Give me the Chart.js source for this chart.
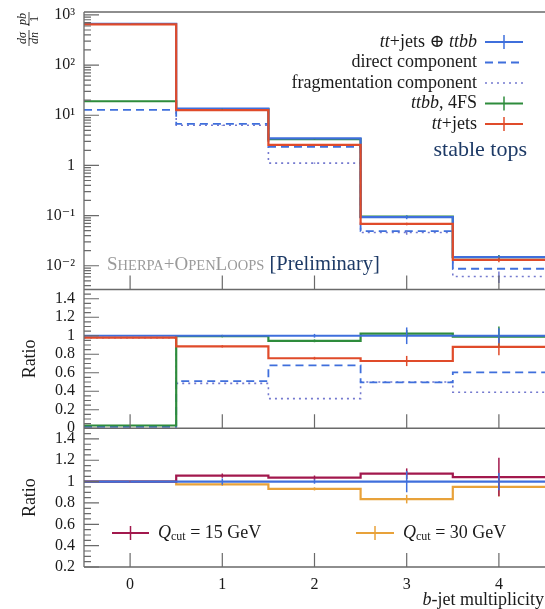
<!DOCTYPE html>
<html>
<head>
<meta charset="utf-8">
<script src="https://cdn.jsdelivr.net/npm/chart.js@4.4.0/dist/chart.umd.min.js"></script>
<style>
  html, body { margin: 0; padding: 0; background: #fff; }
  canvas { display: block; }
</style>
</head>
<body>
<canvas id="chart" width="545" height="609"></canvas>
<script>
// b-jet multiplicity bins
const binEdges = [-0.5, 0.5, 1.5, 2.5, 3.5, 4.5];
const binCenters = [0, 1, 2, 3, 4];
const xTickLabels = ['0', '1', '2', '3', '4'];

// main panel: dsigma/dn [pb]
const combinedXs = [663, 13.6, 3.45, 0.093, 0.0148];
const directXs = [12.8, 6.7, 2.34, 0.049, 0.0087];
const fragXs = [650, 6.3, 1.11, 0.046, 0.0061];
const ttbbXs = [19.0, 13.3, 3.33, 0.0955, 0.0148];
const ttjetsXs = [650, 12.6, 2.56, 0.068, 0.0131];
// relative uncertainties in the main panel
const combinedRelErr = [0.004, 0.01, 0.02, 0.09, 0.08];
const ttbbRelErr = [0.002, 0.012, 0.015, 0.04, 0.11];
const ttjetsRelErr = [0.005, 0.012, 0.02, 0.06, 0.1];
const fragRelErr = [0.004, 0.02, 0.03, 0.1, 0.26];

// middle panel: ratio to tt+jets (+) ttbb
const ratioCombined = [1, 1, 1, 1, 1];
const ratioDirect = [0.015, 0.51, 0.68, 0.495, 0.605];
const ratioFrag = [0.98, 0.485, 0.32, 0.5, 0.39];
const ratioTtbb = [0.03, 0.995, 0.945, 1.022, 0.99];
const ratioTtjets = [0.98, 0.885, 0.757, 0.727, 0.88];
const ratioCombinedErr = [0.004, 0.01, 0.02, 0.09, 0.08];
const ratioTtbbErr = [0.002, 0.012, 0.015, 0.04, 0.11];
const ratioTtjetsErr = [0.005, 0.012, 0.015, 0.055, 0.09];

// bottom panel: Qcut variations
const qcutRef = [1, 1, 1, 1, 1];
const qcut15 = [1, 1.056, 1.037, 1.074, 1.043];
const qcut30 = [1, 0.975, 0.932, 0.836, 0.95];
const qcutRefErr = [0.004, 0.03, 0.02, 0.1, 0.08];
const qcut15Err = [0.004, 0.02, 0.02, 0.05, 0.18];
const qcut30Err = [0.004, 0.015, 0.015, 0.04, 0.09];

// y tick labels
const logTickLabels = {'3': '10³', '2': '10²', '1': '10¹', '0': '1', '-1': '10⁻¹', '-2': '10⁻²'};
const ratioTickValues = [0, 0.2, 0.4, 0.6, 0.8, 1, 1.2, 1.4];

// texts
const legendRows = [
  [{t: 'tt', it: true}, {t: '+jets ⊕ '}, {t: 'ttbb', it: true}],
  [{t: 'direct component'}],
  [{t: 'fragmentation component'}],
  [{t: 'ttbb', it: true}, {t: ', 4FS'}],
  [{t: 'tt', it: true}, {t: '+jets'}]
];
const stableText = 'stable tops';
const qcutLegend = ['= 15 GeV', '= 30 GeV'];

const SERIF = '"Liberation Serif", "DejaVu Serif", serif';
const BLUE = '#3f6fdc';
const GREEN = '#2e8c3c';
const RED = '#e04b2a';
const DOTC = '#7479cf';
const CRIMSON = '#a2184d';
const ORANGE = '#e8a23a';
const NAVY = '#1d3a66';
const FRAME = '#6a6a6a';

const stepPoints = vals => binEdges.map((e, i) => ({x: e, y: vals[Math.min(i, vals.length - 1)]}));

function line(label, vals, axis, color, width, dash, order) {
  return {
    label: label,
    data: stepPoints(vals),
    yAxisID: axis,
    borderColor: color,
    borderWidth: width,
    borderDash: dash || [],
    stepped: 'before',
    pointRadius: 0,
    fill: false,
    order: order
  };
}

const datasets = [
  line('frag', fragXs, 'yTop', DOTC, 1.6, [2, 4], 5),
  line('direct', directXs, 'yTop', BLUE, 1.8, [8, 5], 4),
  line('ttbb', ttbbXs, 'yTop', GREEN, 2.2, null, 3),
  line('combined', combinedXs, 'yTop', BLUE, 2.2, null, 2),
  line('ttjets', ttjetsXs, 'yTop', RED, 2.2, null, 1),

  line('r frag', ratioFrag, 'yMid', DOTC, 1.6, [2, 4], 5),
  line('r direct', ratioDirect, 'yMid', BLUE, 1.8, [8, 5], 4),
  line('r ttbb', ratioTtbb, 'yMid', GREEN, 2.2, null, 3),
  line('r combined', ratioCombined, 'yMid', BLUE, 2.2, null, 2),
  line('r ttjets', ratioTtjets, 'yMid', RED, 2.2, null, 1),

  line('q30', qcut30, 'yBot', ORANGE, 2.2, null, 3),
  line('q15', qcut15, 'yBot', CRIMSON, 2.2, null, 2),
  line('q ref', qcutRef, 'yBot', BLUE, 2.2, null, 1)
];

const errorBars = [
  {axis: 'yTop', vals: fragXs, errs: fragRelErr, rel: true, color: DOTC},
  {axis: 'yTop', vals: ttbbXs, errs: ttbbRelErr, rel: true, color: GREEN},
  {axis: 'yTop', vals: combinedXs, errs: combinedRelErr, rel: true, color: BLUE},
  {axis: 'yTop', vals: ttjetsXs, errs: ttjetsRelErr, rel: true, color: RED},
  {axis: 'yMid', vals: ratioTtbb, errs: ratioTtbbErr, color: GREEN},
  {axis: 'yMid', vals: ratioTtjets, errs: ratioTtjetsErr, color: RED},
  {axis: 'yMid', vals: ratioCombined, errs: ratioCombinedErr, color: BLUE},
  {axis: 'yBot', vals: qcut30, errs: qcut30Err, color: ORANGE},
  {axis: 'yBot', vals: qcut15, errs: qcut15Err, color: CRIMSON},
  {axis: 'yBot', vals: qcutRef, errs: qcutRefErr, color: BLUE}
];

function drawRich(ctx, parts, x, y, size, align, color) {
  const fonts = parts.map(p => (p.it ? 'italic ' : '') + (p.size || size) + 'px ' + SERIF);
  const widths = parts.map((p, i) => { ctx.font = fonts[i]; return ctx.measureText(p.t).width; });
  const total = widths.reduce((a, b) => a + b, 0);
  let cx = align === 'right' ? x - total : x;
  parts.forEach((p, i) => {
    ctx.font = fonts[i];
    ctx.fillStyle = p.color || color;
    ctx.fillText(p.t, cx, y + (p.dy || 0));
    cx += widths[i];
  });
  return cx;
}

function sample(ctx, x0, x1, y, color, width, dash, cross) {
  ctx.strokeStyle = color;
  ctx.lineWidth = width;
  ctx.setLineDash(dash || []);
  ctx.beginPath(); ctx.moveTo(x0, y); ctx.lineTo(x1, y); ctx.stroke();
  ctx.setLineDash([]);
  if (cross) {
    const xm = (x0 + x1) / 2;
    ctx.lineWidth = 1.5;
    ctx.beginPath(); ctx.moveTo(xm, y - 7); ctx.lineTo(xm, y + 7); ctx.stroke();
  }
}

const decor = {
  id: 'decor',
  afterDatasetsDraw(chart) {
    const ctx = chart.ctx;
    const a = chart.chartArea;
    const xs = chart.scales.x;
    ctx.save();

    // error bars
    errorBars.forEach(eb => {
      const ys = chart.scales[eb.axis];
      ctx.strokeStyle = eb.color;
      ctx.lineWidth = 1.5;
      binCenters.forEach((c, i) => {
        const v = eb.vals[i];
        const e = eb.rel ? v * eb.errs[i] : eb.errs[i];
        const px = xs.getPixelForValue(c);
        ctx.beginPath();
        ctx.moveTo(px, ys.getPixelForValue(v - e));
        ctx.lineTo(px, ys.getPixelForValue(v + e));
        ctx.stroke();
      });
    });

    // frame
    const panels = ['yTop', 'yMid', 'yBot'].map(id => chart.scales[id]);
    ctx.strokeStyle = FRAME;
    ctx.lineWidth = 1.3;
    ctx.beginPath();
    ctx.moveTo(a.left, a.top); ctx.lineTo(a.right, a.top);
    ctx.moveTo(a.left, a.top); ctx.lineTo(a.left, a.bottom);
    panels.forEach(s => { ctx.moveTo(a.left, s.bottom); ctx.lineTo(a.right, s.bottom); });
    ctx.stroke();

    // x ticks (inward, at each panel bottom)
    ctx.lineWidth = 1.2;
    ctx.beginPath();
    panels.forEach(s => {
      binCenters.forEach(c => {
        const px = xs.getPixelForValue(c);
        ctx.moveTo(px, s.bottom); ctx.lineTo(px, s.bottom - 14);
      });
    });
    // y ticks: log panel
    const yt = panels[0];
    for (let n = -3; n <= 3; n++) {
      for (let m = 1; m <= 9; m++) {
        const v = m * Math.pow(10, n);
        if (v < yt.min || v > yt.max) continue;
        const py = yt.getPixelForValue(v);
        ctx.moveTo(a.left, py); ctx.lineTo(a.left + (m === 1 ? 15 : 7), py);
      }
    }
    // y ticks: ratio panels
    [panels[1], panels[2]].forEach(s => {
      for (let k = 0; k <= 30; k++) {
        const v = k * 0.05;
        if (v < s.min - 1e-9 || v > s.max + 1e-9) continue;
        const major = k % 4 === 0;
        const py = s.getPixelForValue(v);
        ctx.moveTo(a.left, py); ctx.lineTo(a.left + (major ? 15 : 7), py);
      }
    });
    ctx.stroke();

    // legend of main panel
    ctx.textBaseline = 'middle';
    const rowY = [42, 62.5, 83, 103.5, 124];
    legendRows.forEach((parts, i) => drawRich(ctx, parts, 477, rowY[i], 18, 'right', '#1a1a1a'));
    sample(ctx, 485, 523, rowY[0], BLUE, 2, null, true);
    sample(ctx, 485, 523, rowY[1], BLUE, 1.8, [8, 5], false);
    sample(ctx, 485, 523, rowY[2], DOTC, 1.6, [2, 4], false);
    sample(ctx, 485, 523, rowY[3], GREEN, 2, null, true);
    sample(ctx, 485, 523, rowY[4], RED, 2, null, true);
    ctx.font = '22px ' + SERIF;
    ctx.fillStyle = NAVY;
    ctx.textAlign = 'right';
    ctx.fillText(stableText, 527, 150);
    ctx.textAlign = 'left';

    // generator label
    ctx.textBaseline = 'alphabetic';
    const g = '#9a9a9a';
    let gx = drawRich(ctx, [
      {t: 'S', size: 19, color: g}, {t: 'HERPA', size: 14.5, color: g},
      {t: '+O', size: 19, color: g}, {t: 'PEN', size: 14.5, color: g},
      {t: 'L', size: 19, color: g}, {t: 'OOPS', size: 14.5, color: g}
    ], 107, 270, 19, 'left', g);
    drawRich(ctx, [{t: ' [Preliminary]', size: 20.5, color: NAVY}], gx, 270, 20.5, 'left', NAVY);

    // Qcut legend
    ctx.textBaseline = 'middle';
    const qy = 533;
    sample(ctx, 112, 149, qy, CRIMSON, 2, null, true);
    sample(ctx, 356, 394, qy, ORANGE, 2, null, true);
    [[158, qcutLegend[0]], [403, qcutLegend[1]]].forEach(([qx, txt]) => {
      drawRich(ctx, [{t: 'Q', it: true, size: 18}, {t: 'cut', size: 12, dy: 4}, {t: ' ' + txt, size: 18}], qx, qy, 18, 'left', '#1a1a1a');
    });

    // axis titles
    ctx.fillStyle = '#1a1a1a';
    drawRich(ctx, [{t: 'b', it: true}, {t: '-jet multiplicity'}], 544, 600, 18, 'right', '#1a1a1a');
    ctx.textAlign = 'center';
    ctx.font = '18px ' + SERIF;
    [[30, (panels[1].top + panels[1].bottom) / 2], [30, (panels[2].top + panels[2].bottom) / 2]].forEach(([tx, ty]) => {
      ctx.save(); ctx.translate(tx, ty); ctx.rotate(-Math.PI / 2); ctx.fillText('Ratio', 0, 0); ctx.restore();
    });
    // dsigma/dn  pb/1, rotated
    ctx.save();
    ctx.translate(28, 47);
    ctx.rotate(-Math.PI / 2);
    ctx.font = 'italic 12px ' + SERIF;
    ctx.fillText('dσ', 9, -5);
    ctx.fillText('dn', 9, 7);
    ctx.fillText('pb', 28, -5);
    ctx.font = '12px ' + SERIF;
    ctx.fillText('1', 28, 7);
    ctx.strokeStyle = '#1a1a1a';
    ctx.lineWidth = 0.8;
    ctx.beginPath();
    ctx.moveTo(1, 1); ctx.lineTo(17, 1);
    ctx.moveTo(21, 1); ctx.lineTo(35, 1);
    ctx.stroke();
    ctx.restore();

    ctx.restore();
  }
};

// keep Chart.js from reserving room for half tick labels at the edges
const fitY = s => { s.width = 84; s.paddingTop = 0; s.paddingBottom = 0; };
const fitX = s => { s.height = 42; s.paddingLeft = 0; s.paddingRight = 0; };

const tickFont = {family: SERIF, size: 16};
const ratioTicks = {
  autoSkip: false,
  padding: 9,
  color: '#1a1a1a',
  font: tickFont,
  callback: v => String(Math.round(v * 10) / 10)
};
const ratioBuild = s => {
  s.ticks = ratioTickValues.filter(v => v >= s.min - 1e-9 && v <= s.max + 1e-9).map(v => ({value: v}));
};

new Chart(document.getElementById('chart'), {
  type: 'line',
  data: {datasets: datasets},
  options: {
    responsive: false,
    animation: false,
    devicePixelRatio: 1,
    layout: {padding: {top: 12, right: 0, left: 0, bottom: 0}},
    plugins: {legend: {display: false}, tooltip: {enabled: false}},
    scales: {
      x: {
        type: 'linear',
        min: binEdges[0],
        max: binEdges[binEdges.length - 1],
        grid: {display: false, drawTicks: false},
        border: {display: false},
        afterFit: fitX,
        afterBuildTicks: s => { s.ticks = binCenters.map(v => ({value: v})); },
        ticks: {
          autoSkip: false,
          padding: 8,
          color: '#1a1a1a',
          font: tickFont,
          callback: v => { const i = binCenters.indexOf(v); return i >= 0 ? xTickLabels[i] : ''; }
        }
      },
      yTop: {
        type: 'logarithmic',
        position: 'left',
        stack: 'panels',
        stackWeight: 2,
        weight: 3,
        min: 0.00336,
        max: 1142,
        grid: {display: false, drawTicks: false},
        border: {display: false},
        afterFit: fitY,
        ticks: {
          autoSkip: false,
          padding: 9,
          color: '#1a1a1a',
          font: tickFont,
          callback: v => {
            const l = Math.log10(v);
            const r = Math.round(l);
            return Math.abs(l - r) < 1e-6 && logTickLabels[String(r)] ? logTickLabels[String(r)] : '';
          }
        }
      },
      yMid: {
        type: 'linear',
        position: 'left',
        stack: 'panels',
        stackWeight: 1,
        weight: 2,
        min: 0,
        max: 1.5,
        grid: {display: false, drawTicks: false},
        border: {display: false},
        afterFit: fitY,
        afterBuildTicks: ratioBuild,
        ticks: ratioTicks
      },
      yBot: {
        type: 'linear',
        position: 'left',
        stack: 'panels',
        stackWeight: 1,
        weight: 1,
        min: 0.2,
        max: 1.5,
        grid: {display: false, drawTicks: false},
        border: {display: false},
        afterFit: fitY,
        afterBuildTicks: ratioBuild,
        ticks: ratioTicks
      }
    }
  },
  plugins: [decor]
});
</script>
</body>
</html>
